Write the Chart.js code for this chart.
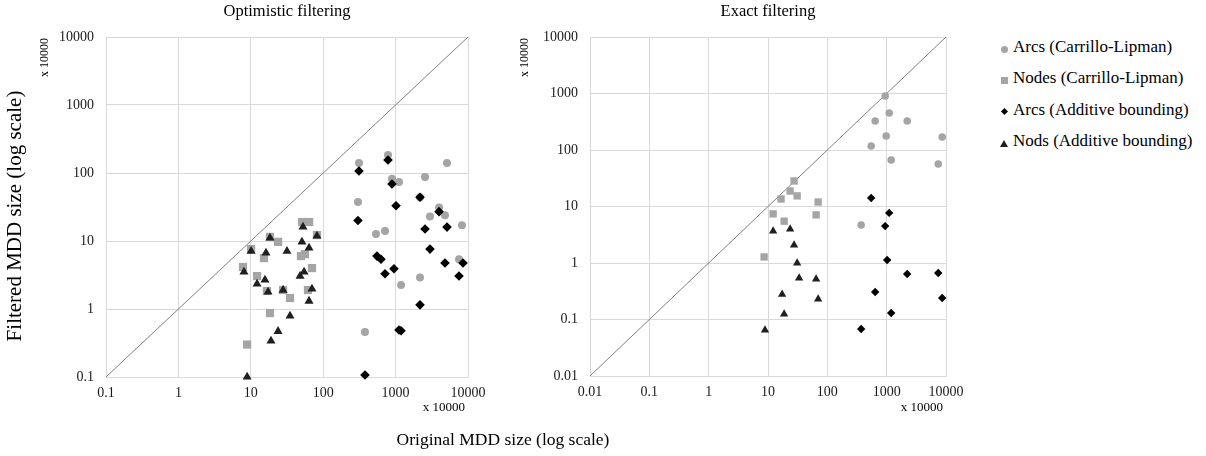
<!DOCTYPE html>
<html lang="en">
<head>
    <meta charset="UTF-8">
    <title>MDD size before and after filtering</title>
    <style>
        body {
            margin: 0;
            background: #fff;
            font-family: "Liberation Serif", "Times New Roman", serif;
            color: #000;
        }
        #wrap { position: relative; width: 1206px; height: 456px; }
        .box { position: absolute; top: 0; height: 456px; }
        #left { left: 0; width: 500px; }
        #right { left: 500px; width: 480px; }
        #xTitle {
            position: absolute; left: 303px; width: 400px; top: 429px;
            text-align: center; font-size: 17.5px;
        }
        #legend { position: absolute; left: 997px; top: 37px; font-size: 17px; }
        .item { height: 20px; line-height: 20px; margin-bottom: 11.3px; white-space: nowrap; }
        .mk { display: inline-block; width: 14px; margin-right: 2px; vertical-align: middle; text-align: center; }
        .mk span { display: inline-block; vertical-align: middle; }
        .circle { width: 7px; height: 7px; border-radius: 50%; background: #a5a5a5; }
        .square { width: 7px; height: 7px; background: #a5a5a5; }
        .diamond { width: 5px; height: 5px; background: #000; transform: rotate(45deg); }
        .tri { width: 0; height: 0; border-left: 4px solid transparent; border-right: 4px solid transparent; border-bottom: 7px solid #1f1f1f; }
    </style>
    <script src="https://cdn.jsdelivr.net/npm/chart.js"></script>
</head>
<body>
<div id="wrap">
    <div class="box" id="left"><canvas id="optChart"></canvas></div>
    <div class="box" id="right"><canvas id="exactChart"></canvas></div>
    <div id="xTitle">Original MDD size (log scale)</div>
    <div id="legend">
        <div class="item"><span class="mk"><span class="circle"></span></span>Arcs (Carrillo-Lipman)</div>
        <div class="item"><span class="mk"><span class="square"></span></span>Nodes (Carrillo-Lipman)</div>
        <div class="item"><span class="mk"><span class="diamond"></span></span>Arcs (Additive bounding)</div>
        <div class="item"><span class="mk"><span class="tri"></span></span>Nods (Additive bounding)</div>
    </div>
</div>

<script>
    // Tick values (x 10000)
    const optTicks = [0.1, 1, 10, 100, 1000, 10000];
    const exactTicks = [0.01, 0.1, 1, 10, 100, 1000, 10000];

    // Optimistic filtering
    const optArcsCLx = [785, 312, 5130, 891, 1114, 2548, 302, 2173, 3981, 2985, 4810, 8260, 536, 714, 7510, 2173, 1189, 378];
    const optArcsCLy = [184, 140, 140, 82, 74, 87, 37.5, 44, 31, 23, 24, 17, 12.7, 14, 5.4, 2.9, 2.25, 0.46];
    const optNodesCLx = [51, 64, 82, 18.4, 23.8, 10.1, 15.2, 49.3, 56, 70, 7.8, 12.2, 16.7, 27.9, 34.8, 61.6, 18.4, 8.9];
    const optNodesCLy = [19, 19, 12.2, 11.5, 9.7, 7.6, 5.6, 6, 6.4, 4, 4.15, 3.05, 1.84, 1.9, 1.45, 1.9, 0.87, 0.3];
    const optArcsABx = [785, 312, 891, 1014, 2173, 3981, 302, 2548, 5130, 2985, 553, 628, 4810, 8530, 950, 714, 7510, 2173, 1114, 1189, 378];
    const optArcsABy = [155, 107, 69, 33, 44, 27, 20, 15, 16, 7.6, 6, 5.4, 4.75, 4.75, 3.9, 3.3, 3.05, 1.15, 0.49, 0.48, 0.107];
    const optNodsABx = [52.6, 82, 18.4, 50.9, 63.7, 10.1, 16.2, 31.6, 8.05, 54.4, 47.9, 12.2, 15.7, 17.3, 27.9, 70, 63.7, 34.8, 23.8, 19, 8.9];
    const optNodsABy = [16.1, 11.9, 11.1, 9.7, 7.9, 7.1, 6.7, 7.1, 3.5, 3.5, 3.05, 2.33, 2.67, 1.78, 1.9, 1.97, 1.31, 0.79, 0.47, 0.34, 0.1];

    // Exact filtering
    const exArcsCLx = [944, 1102, 640, 2217, 981, 8630, 548, 1191, 7400, 372];
    const exArcsCLy = [903, 452, 326, 326, 177, 170, 118, 66.5, 56.5, 4.7];
    const exNodesCLx = [27.5, 23.6, 16.6, 31, 12.2, 18.7, 8.6, 70, 64.7];
    const exNodesCLy = [28.3, 18.8, 13.6, 15.4, 7.4, 5.5, 1.28, 12, 7.1];
    const exArcsABx = [548, 1102, 944, 1019, 2217, 7400, 640, 8630, 1191, 372];
    const exArcsABy = [14.1, 7.7, 4.5, 1.13, 0.64, 0.665, 0.307, 0.24, 0.13, 0.068];
    const exNodsABx = [12.2, 23.6, 27.5, 31, 33.5, 17.3, 18.7, 8.9, 64.7, 70];
    const exNodsABy = [3.68, 4.0, 2.08, 1.0, 0.54, 0.28, 0.125, 0.065, 0.52, 0.23];

    const FONT = '"Liberation Serif", "Times New Roman", serif';
    const pts = (xs, ys) => xs.map((x, i) => ({ x: x, y: ys[i] }));

    // titles, y axis title and the "x 10000" unit notes
    const notesPlugin = {
        id: 'notes',
        afterDraw(chart, args, o) {
            const ctx = chart.ctx, a = chart.chartArea;
            ctx.save();
            ctx.fillStyle = '#000';
            ctx.textBaseline = 'middle';
            ctx.font = '16.5px ' + FONT;
            ctx.textAlign = 'center';
            ctx.fillText(o.title, (a.left + a.right) / 2, 12);
            ctx.font = '13px ' + FONT;
            ctx.textAlign = 'right';
            ctx.fillText('x 10000', a.right - 3, 408);
            if (o.yTitle) {
                ctx.save();
                ctx.translate(15, (a.top + a.bottom) / 2 + 9);
                ctx.rotate(-Math.PI / 2);
                ctx.textAlign = 'center';
                ctx.font = '21px ' + FONT;
                ctx.fillText(o.yTitle, 0, 0);
                ctx.restore();
            }
            ctx.translate(o.unitX, a.top + 1);
            ctx.rotate(-Math.PI / 2);
            ctx.font = '12px ' + FONT;
            ctx.fillText('x 10000', 0, 0);
            ctx.restore();
        }
    };

    function axis(ticks, size, fitFn) {
        return {
            type: 'logarithmic',
            min: ticks[0],
            max: ticks[ticks.length - 1],
            afterBuildTicks: s => { s.ticks = ticks.map(v => ({ value: v })); },
            afterFit: fitFn,
            grid: { color: '#d9d9d9', drawTicks: false },
            border: { color: '#d9d9d9' },
            ticks: {
                callback: v => String(v),
                font: { family: FONT, size: 14 },
                color: '#1a1a1a',
                padding: size,
                maxRotation: 0,
                autoSkip: false
            }
        };
    }

    function makeChart(id, ticks, d, cfg) {
        const diag = [ticks[0], ticks[ticks.length - 1]];
        return new Chart(document.getElementById(id), {
            type: 'scatter',
            data: {
                datasets: [
                    { type: 'line', data: pts(diag, diag), borderColor: '#808080', borderWidth: 1,
                      pointRadius: 0, order: 5 },
                    { label: 'Arcs (Carrillo-Lipman)', data: d[0], pointStyle: 'circle',
                      pointRadius: cfg.r[0], backgroundColor: '#a5a5a5', borderWidth: 0, order: 4, clip: false },
                    { label: 'Nodes (Carrillo-Lipman)', data: d[1], pointStyle: 'rect',
                      pointRadius: cfg.r[1], backgroundColor: '#a5a5a5', borderWidth: 0, order: 3, clip: false },
                    { label: 'Arcs (Additive bounding)', data: d[2], pointStyle: 'rectRot',
                      pointRadius: cfg.r[2], backgroundColor: '#000', borderWidth: 0, order: 2, clip: false },
                    { label: 'Nods (Additive bounding)', data: d[3], pointStyle: 'triangle',
                      pointRadius: cfg.r[3], backgroundColor: '#1f1f1f', borderWidth: 0, order: 1, clip: false }
                ]
            },
            options: {
                responsive: true,
                maintainAspectRatio: false,
                animation: false,
                events: [],
                layout: { padding: { top: cfg.top, right: cfg.right, left: 0, bottom: 0 } },
                plugins: {
                    legend: { display: false },
                    tooltip: { enabled: false },
                    notes: { title: cfg.title, unitX: cfg.unitX, yTitle: cfg.yTitle }
                },
                scales: {
                    x: axis(ticks, 8, s => { s.height = cfg.xh; }),
                    y: axis(ticks, 12, s => { s.width = cfg.yw; })
                }
            },
            plugins: [notesPlugin]
        });
    }

    makeChart('optChart', optTicks,
        [pts(optArcsCLx, optArcsCLy), pts(optNodesCLx, optNodesCLy), pts(optArcsABx, optArcsABy), pts(optNodsABx, optNodsABy)],
        { title: 'Optimistic filtering', unitX: 45, top: 37, right: 32, xh: 79, yw: 106, r: [4, 5.8, 4.8, 5.2],
          yTitle: 'Filtered MDD size (log scale)' });

    makeChart('exactChart', exactTicks,
        [pts(exArcsCLx, exArcsCLy), pts(exNodesCLx, exNodesCLy), pts(exArcsABx, exArcsABy), pts(exNodsABx, exNodsABy)],
        { title: 'Exact filtering', unitX: 25, top: 37, right: 34, xh: 80, yw: 90, r: [3.8, 5.2, 4.2, 4.8] });
</script>
</body>
</html>
